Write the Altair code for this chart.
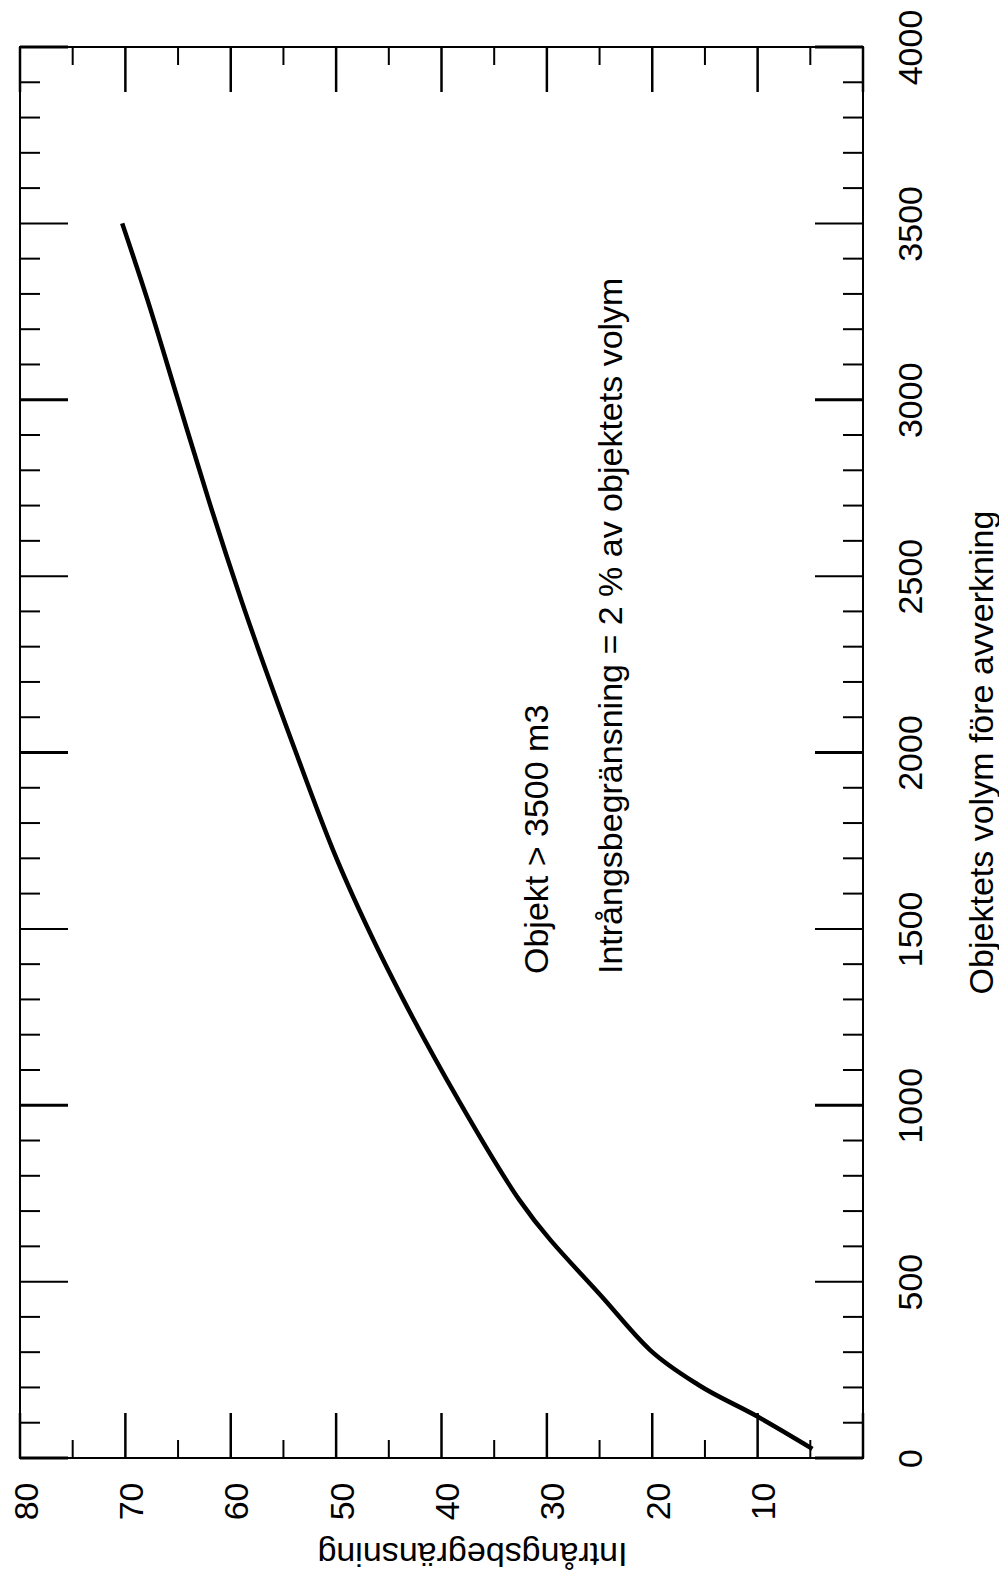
import altair as alt
import pandas as pd

# Curve: Intrångsbegränsning vs objektets volym
volym = [26, 119, 207, 306, 448, 731, 1015, 1298, 1440, 1724, 2007, 2432, 2716, 2999, 3283, 3500]
intrang = [4.8, 10.1, 15.6, 20.2, 24.5, 32.6, 38.4, 43.6, 46.0, 50.3, 53.9, 59.0, 62.1, 65.0, 67.9, 70.3]

vol_ticks = list(range(0, 4001, 500))
intr_labels = list(range(10, 81, 10))
intr_ticks = list(range(0, 81, 10))
vol_minor = [v for v in range(0, 4001, 100) if v % 500 != 0]
intr_minor = list(range(5, 80, 10))
vol_k = [v for v in vol_ticks if v % 1000 == 0]
vol_half = [v for v in vol_ticks if v % 1000 != 0]

ann_text = ["Objekt > 3500 m3", "Intrångsbegränsning = 2 % av objektets volym"]
ann_x = [29.9, 22.9]
ann_y = [1372, 1372]

W, H = 843, 1411
FONT = "Liberation Sans"
FS = 34

xs = alt.Scale(domain=[0, 80], reverse=True, nice=False, zero=False)
ys = alt.Scale(domain=[0, 4000], nice=False, zero=False)

curve_df = pd.DataFrame({"intr": intrang, "vol": volym})

line = alt.Chart(curve_df).mark_line(color="black", strokeWidth=4.5, interpolate="monotone").encode(
    x=alt.X("intr:Q", scale=xs, axis=alt.Axis(
        orient="bottom", values=intr_labels, format="d", ticks=False, tickSize=0, domain=False,
        grid=False, labelAngle=270, labelAlign="right", labelBaseline="middle", labelPadding=24,
        labelOffset=7, labelFlush=False, labelOverlap=False,
        labelFont=FONT, labelFontSize=FS, labelColor="black",
        title="Intrångsbegränsning", titleFont=FONT, titleFontSize=FS, titleFontWeight="normal",
        titleColor="black", titleAngle=180, titleAlign="center", titleBaseline="alphabetic",
        titleX=452, titleY=84)),
    y=alt.Y("vol:Q", scale=ys, axis=alt.Axis(
        orient="right", values=vol_ticks, format="d", ticks=False, tickSize=0, domain=False,
        grid=False, labelAngle=270, labelAlign="center", labelBaseline="top", labelPadding=31,
        labelFlush=False, labelOverlap=False,
        labelFont=FONT, labelFontSize=FS, labelColor="black",
        title="Objektets volym före avverkning", titleFont=FONT, titleFontSize=FS,
        titleFontWeight="normal", titleColor="black", titleAngle=270, titleAlign="center",
        titleBaseline="alphabetic", titleX=129, titleY=705)),
    order=alt.Order("vol:Q"),
)

def hticks(vals, length, width):
    df = pd.DataFrame({"vol": vals})
    left = alt.Chart(df).mark_rule(color="black", strokeWidth=width).encode(
        y=alt.Y("vol:Q", scale=ys), x=alt.value(0), x2=alt.value(length))
    right = alt.Chart(df).mark_rule(color="black", strokeWidth=width).encode(
        y=alt.Y("vol:Q", scale=ys), x=alt.value(W - length), x2=alt.value(W))
    return [left, right]

def vticks(vals, length, width):
    df = pd.DataFrame({"intr": vals})
    bottom = alt.Chart(df).mark_rule(color="black", strokeWidth=width).encode(
        x=alt.X("intr:Q", scale=xs), y=alt.value(H - length), y2=alt.value(H))
    top = alt.Chart(df).mark_rule(color="black", strokeWidth=width).encode(
        x=alt.X("intr:Q", scale=xs), y=alt.value(0), y2=alt.value(length))
    return [bottom, top]

tick_layers = []
tick_layers += hticks(vol_minor, 20, 2)
tick_layers += hticks(vol_half, 48, 2)
tick_layers += hticks(vol_k, 48, 3)
tick_layers += vticks(intr_minor, 18, 2)
tick_layers += vticks(intr_ticks, 45, 2.5)

ann_df = pd.DataFrame({"t": ann_text, "intr": ann_x, "vol": ann_y})
ann = alt.Chart(ann_df).mark_text(
    angle=270, align="left", baseline="alphabetic", font=FONT, fontSize=FS, color="black"
).encode(
    x=alt.X("intr:Q", scale=xs), y=alt.Y("vol:Q", scale=ys), text="t:N")

chart = alt.layer(*tick_layers, line, ann).properties(
    width=W, height=H,
    autosize=alt.AutoSizeParams(type="none"),
    padding={"left": 12, "top": 39, "right": 136, "bottom": 114},
    background="white",
).configure_view(stroke="black", strokeWidth=2)

chart.save("out.html", embed_options={"renderer": "svg", "actions": False})
